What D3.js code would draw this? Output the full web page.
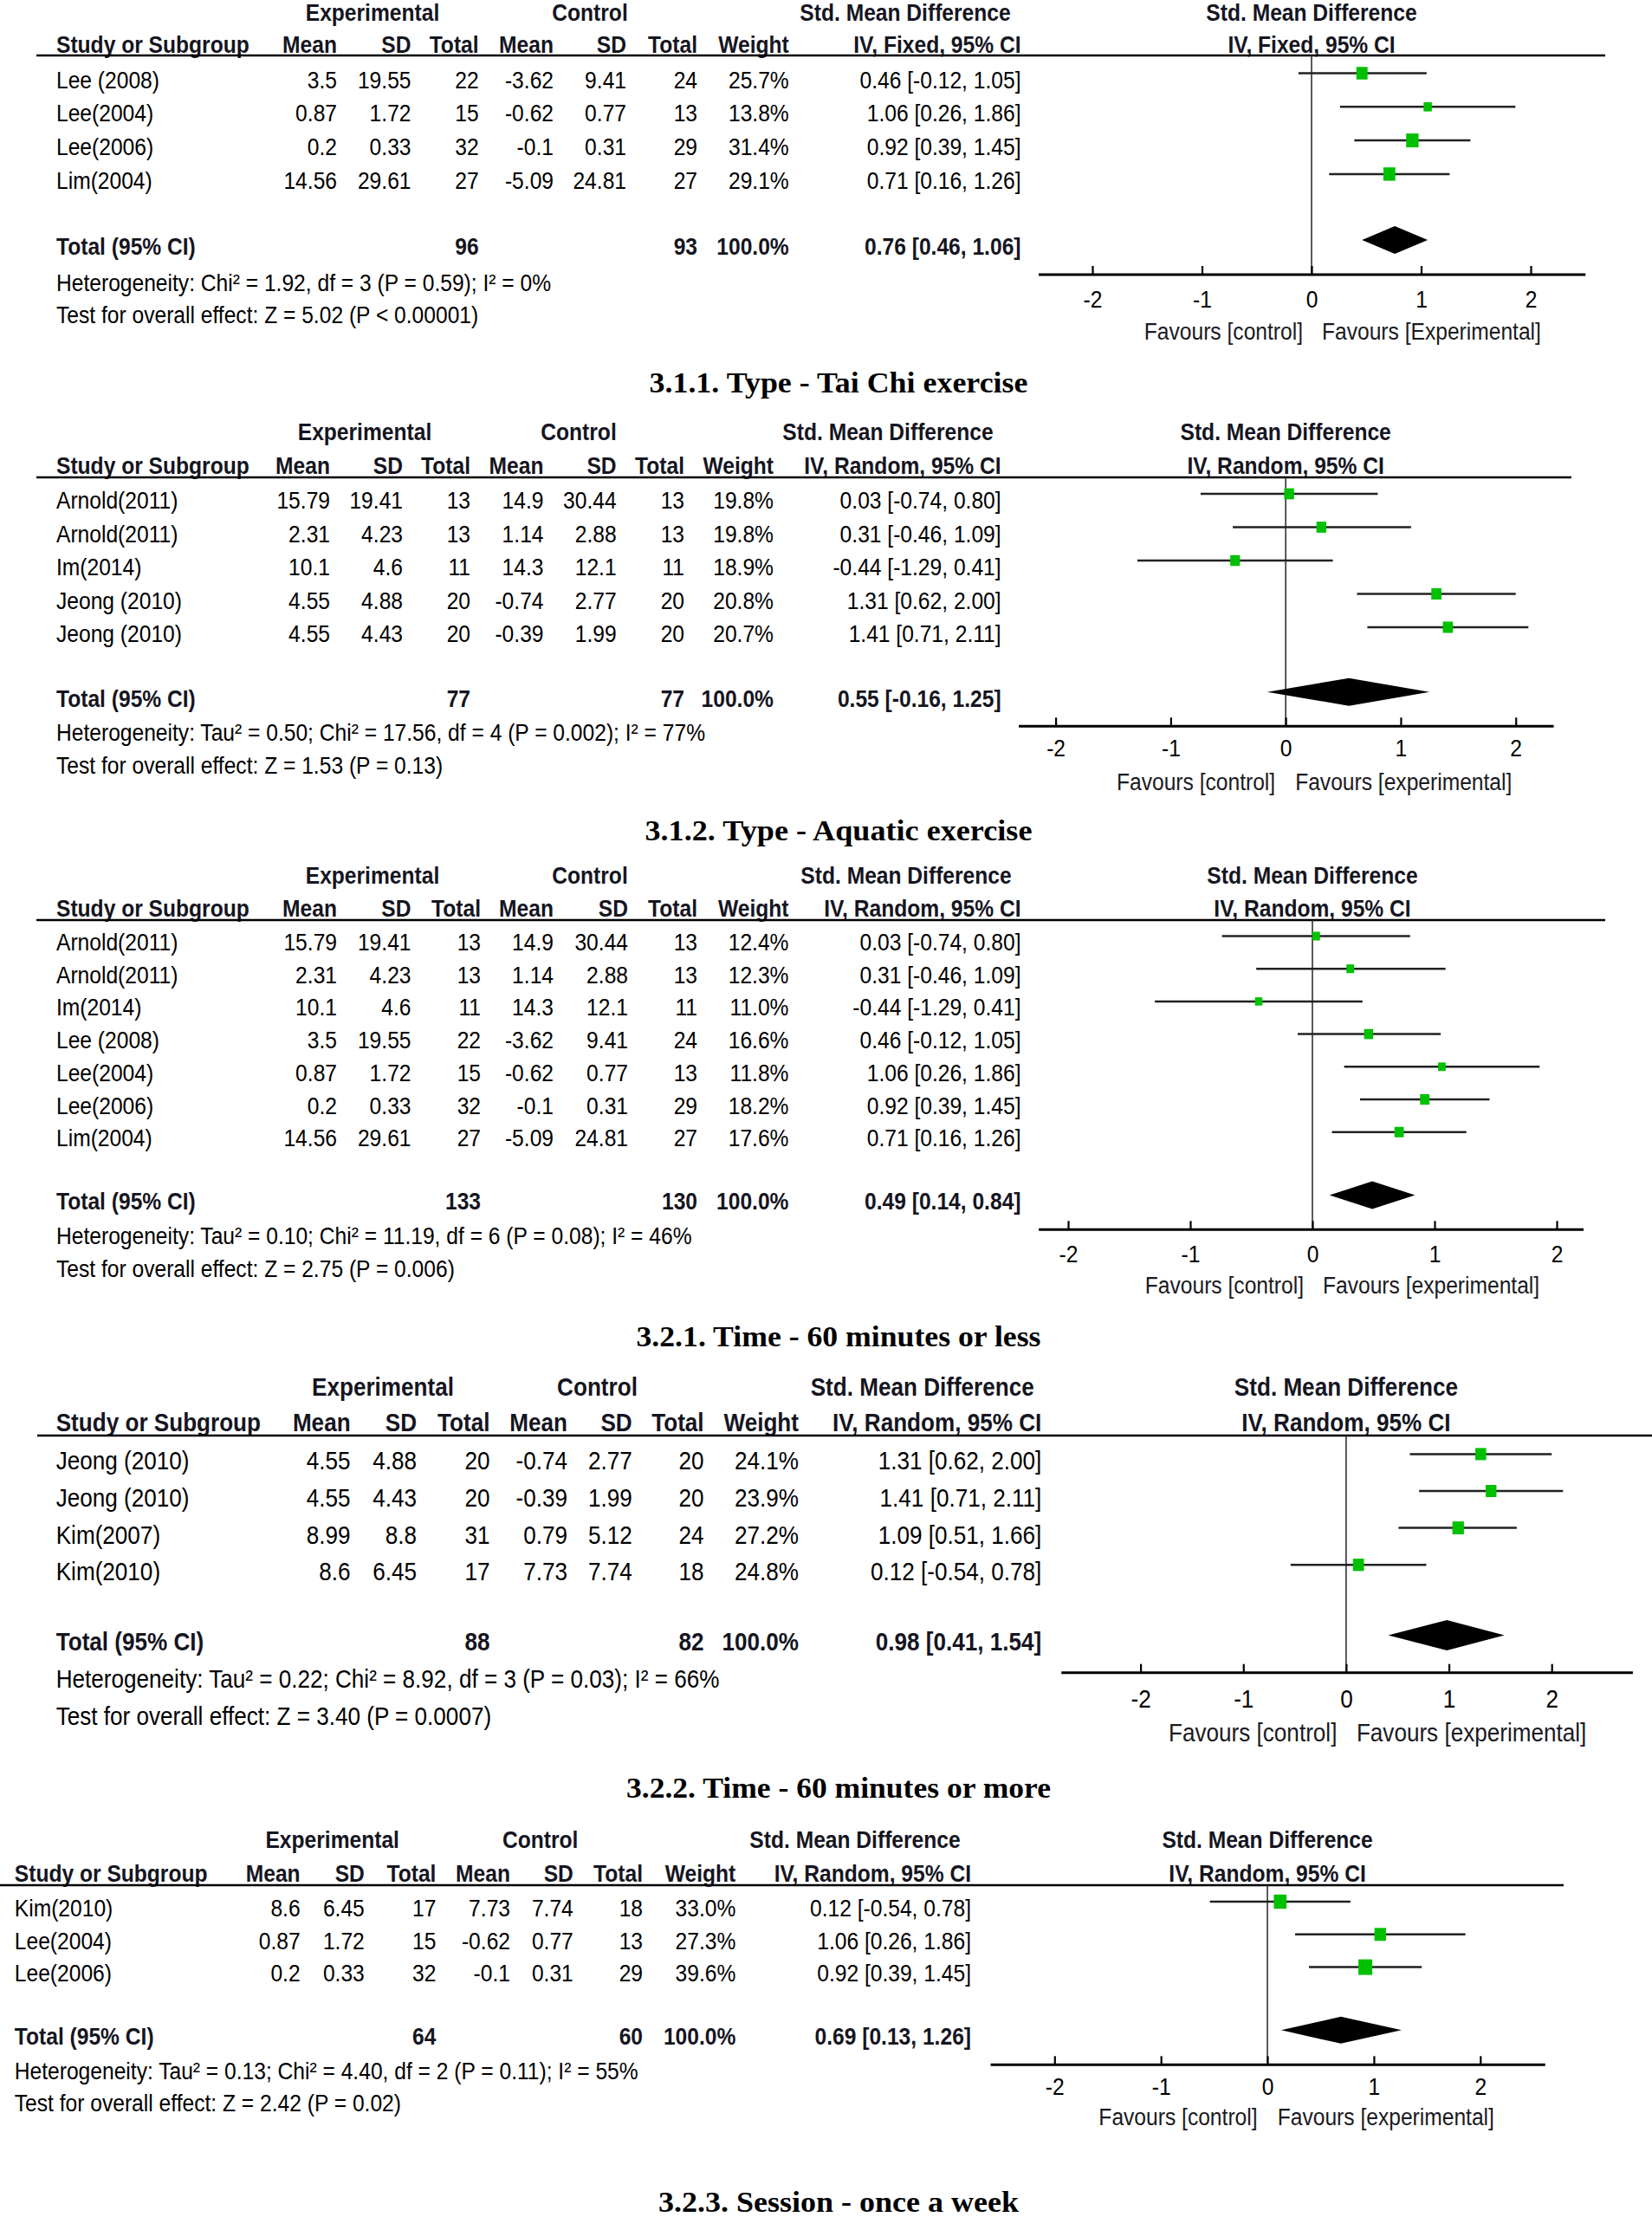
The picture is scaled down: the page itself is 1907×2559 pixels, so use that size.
<!DOCTYPE html>
<html><head><meta charset="utf-8">
<script src="https://cdn.jsdelivr.net/npm/d3@7"></script>
<style>html,body{margin:0;padding:0;background:#fff} svg{display:block}</style>
</head><body>
<script>
// ---------------- DATA ----------------
const tickValues = [-2, -1, 0, 1, 2];
const colHeaders = ["Mean", "SD", "Total", "Mean", "SD", "Total", "Weight"];

// Panel 1 — IV, Fixed
const p1Study   = ["Lee (2008)", "Lee(2004)", "Lee(2006)", "Lim(2004)"];
const p1ExpMean = [3.5, 0.87, 0.2, 14.56];
const p1ExpSD   = [19.55, 1.72, 0.33, 29.61];
const p1ExpN    = [22, 15, 32, 27];
const p1CtlMean = [-3.62, -0.62, -0.1, -5.09];
const p1CtlSD   = [9.41, 0.77, 0.31, 24.81];
const p1CtlN    = [24, 13, 29, 27];
const p1Weight  = [25.7, 13.8, 31.4, 29.1];
const p1Smd     = [0.46, 1.06, 0.92, 0.71];
const p1Lo      = [-0.12, 0.26, 0.39, 0.16];
const p1Hi      = [1.05, 1.86, 1.45, 1.26];
const p1Total   = {expN: 96, ctlN: 93, smd: 0.76, lo: 0.46, hi: 1.06};
const p1Het  = "Heterogeneity: Chi\u00B2 = 1.92, df = 3 (P = 0.59); I\u00B2 = 0%";
const p1Test = "Test for overall effect: Z = 5.02 (P < 0.00001)";

// Panel 2 — Type: Tai Chi
const p2Study   = ["Arnold(2011)", "Arnold(2011)", "Im(2014)", "Jeong (2010)", "Jeong (2010)"];
const p2ExpMean = [15.79, 2.31, 10.1, 4.55, 4.55];
const p2ExpSD   = [19.41, 4.23, 4.6, 4.88, 4.43];
const p2ExpN    = [13, 13, 11, 20, 20];
const p2CtlMean = [14.9, 1.14, 14.3, -0.74, -0.39];
const p2CtlSD   = [30.44, 2.88, 12.1, 2.77, 1.99];
const p2CtlN    = [13, 13, 11, 20, 20];
const p2Weight  = [19.8, 19.8, 18.9, 20.8, 20.7];
const p2Smd     = [0.03, 0.31, -0.44, 1.31, 1.41];
const p2Lo      = [-0.74, -0.46, -1.29, 0.62, 0.71];
const p2Hi      = [0.80, 1.09, 0.41, 2.00, 2.11];
const p2Total   = {expN: 77, ctlN: 77, smd: 0.55, lo: -0.16, hi: 1.25};
const p2Het  = "Heterogeneity: Tau\u00B2 = 0.50; Chi\u00B2 = 17.56, df = 4 (P = 0.002); I\u00B2 = 77%";
const p2Test = "Test for overall effect: Z = 1.53 (P = 0.13)";

// Panel 3 — Type: Aquatic
const p3Study   = ["Arnold(2011)", "Arnold(2011)", "Im(2014)", "Lee (2008)", "Lee(2004)", "Lee(2006)", "Lim(2004)"];
const p3ExpMean = [15.79, 2.31, 10.1, 3.5, 0.87, 0.2, 14.56];
const p3ExpSD   = [19.41, 4.23, 4.6, 19.55, 1.72, 0.33, 29.61];
const p3ExpN    = [13, 13, 11, 22, 15, 32, 27];
const p3CtlMean = [14.9, 1.14, 14.3, -3.62, -0.62, -0.1, -5.09];
const p3CtlSD   = [30.44, 2.88, 12.1, 9.41, 0.77, 0.31, 24.81];
const p3CtlN    = [13, 13, 11, 24, 13, 29, 27];
const p3Weight  = [12.4, 12.3, 11.0, 16.6, 11.8, 18.2, 17.6];
const p3Smd     = [0.03, 0.31, -0.44, 0.46, 1.06, 0.92, 0.71];
const p3Lo      = [-0.74, -0.46, -1.29, -0.12, 0.26, 0.39, 0.16];
const p3Hi      = [0.80, 1.09, 0.41, 1.05, 1.86, 1.45, 1.26];
const p3Total   = {expN: 133, ctlN: 130, smd: 0.49, lo: 0.14, hi: 0.84};
const p3Het  = "Heterogeneity: Tau\u00B2 = 0.10; Chi\u00B2 = 11.19, df = 6 (P = 0.08); I\u00B2 = 46%";
const p3Test = "Test for overall effect: Z = 2.75 (P = 0.006)";

// Panel 4 — Time: 60 minutes or less
const p4Study   = ["Jeong (2010)", "Jeong (2010)", "Kim(2007)", "Kim(2010)"];
const p4ExpMean = [4.55, 4.55, 8.99, 8.6];
const p4ExpSD   = [4.88, 4.43, 8.8, 6.45];
const p4ExpN    = [20, 20, 31, 17];
const p4CtlMean = [-0.74, -0.39, 0.79, 7.73];
const p4CtlSD   = [2.77, 1.99, 5.12, 7.74];
const p4CtlN    = [20, 20, 24, 18];
const p4Weight  = [24.1, 23.9, 27.2, 24.8];
const p4Smd     = [1.31, 1.41, 1.09, 0.12];
const p4Lo      = [0.62, 0.71, 0.51, -0.54];
const p4Hi      = [2.00, 2.11, 1.66, 0.78];
const p4Total   = {expN: 88, ctlN: 82, smd: 0.98, lo: 0.41, hi: 1.54};
const p4Het  = "Heterogeneity: Tau\u00B2 = 0.22; Chi\u00B2 = 8.92, df = 3 (P = 0.03); I\u00B2 = 66%";
const p4Test = "Test for overall effect: Z = 3.40 (P = 0.0007)";

// Panel 5 — Time: 60 minutes or more
const p5Study   = ["Kim(2010)", "Lee(2004)", "Lee(2006)"];
const p5ExpMean = [8.6, 0.87, 0.2];
const p5ExpSD   = [6.45, 1.72, 0.33];
const p5ExpN    = [17, 15, 32];
const p5CtlMean = [7.73, -0.62, -0.1];
const p5CtlSD   = [7.74, 0.77, 0.31];
const p5CtlN    = [18, 13, 29];
const p5Weight  = [33.0, 27.3, 39.6];
const p5Smd     = [0.12, 1.06, 0.92];
const p5Lo      = [-0.54, 0.26, 0.39];
const p5Hi      = [0.78, 1.86, 1.45];
const p5Total   = {expN: 64, ctlN: 60, smd: 0.69, lo: 0.13, hi: 1.26};
const p5Het  = "Heterogeneity: Tau\u00B2 = 0.13; Chi\u00B2 = 4.40, df = 2 (P = 0.11); I\u00B2 = 55%";
const p5Test = "Test for overall effect: Z = 2.42 (P = 0.02)";

const methods = ["IV, Fixed, 95% CI", "IV, Random, 95% CI", "IV, Random, 95% CI", "IV, Random, 95% CI", "IV, Random, 95% CI"];
const favLeft  = ["Favours [control]", "Favours [control]", "Favours [control]", "Favours [control]", "Favours [control]"];
const favRight = ["Favours [Experimental]", "Favours [experimental]", "Favours [experimental]", "Favours [experimental]", "Favours [experimental]"];
const captions = ["3.1.1. Type - Tai Chi exercise", "3.1.2. Type - Aquatic exercise",
                  "3.2.1. Time - 60 minutes or less", "3.2.2. Time - 60 minutes or more",
                  "3.2.3. Session - once a week"];

// ---------------- LAYOUT (positions / styles) ----------------
const layouts = [
  {fs:27.5, sx:0.895, h1:24, h2:60.5, hl:64, hlX1:42, hlX2:1853, study:65,
   cols:[389,474.5,552.6,639,723,805,910.7,1178.5], hdr:{exp:430,ctl:681,smd:1045},
   row0:101.5, rowStep:38.8, totY:294, hetY:336, testY:373,
   xm2:1261, x2:1767, axY:317, axExt:[-2.49,2.5], tickLblY:355, favY:392, favGap:[10,12], ciOff:17, dHalf:16},
  {fs:27.5, sx:0.895, h1:508, h2:546.5, hl:551, hlX1:42, hlX2:1814, study:65,
   cols:[381,465,543,627.5,711.6,790,893,1155.6], hdr:{exp:421,ctl:668,smd:1025},
   row0:587, rowStep:38.5, totY:815.7, hetY:855, testY:893,
   xm2:1218.6, x2:1749.7, axY:838.3, axExt:[-2.32,2.33], tickLblY:873, favY:911.7, favGap:[12,11], ciOff:17, dHalf:16},
  {fs:27.5, sx:0.895, h1:1020, h2:1058, hl:1062, hlX1:42, hlX2:1853, study:65,
   cols:[389,474.5,555,639,725,805,910.5,1178.5], hdr:{exp:430,ctl:681,smd:1046},
   row0:1097, rowStep:37.7, totY:1396, hetY:1436.4, testY:1474,
   xm2:1233, x2:1797, axY:1419.3, axExt:[-2.24,2.22], tickLblY:1456.7, favY:1493, favGap:[10,12], ciOff:16.5, dHalf:16},
  {fs:29.5, sx:0.885, h1:1610.7, h2:1651.8, hl:1657, hlX1:43, hlX2:1907, study:64.7,
   cols:[404.6,481,565.5,655,729.7,812.6,922,1202.3], hdr:{exp:442,ctl:689.5,smd:1064.7},
   row0:1696.4, rowStep:42.6, totY:1905.4, hetY:1948.2, testY:1991,
   xm2:1316.6, x2:1791.2, axY:1930.7, axExt:[-2.77,2.79], tickLblY:1970.7, favY:2010, favGap:[10.5,12], ciOff:18, dHalf:17.5},
  {fs:27.5, sx:0.895, h1:2133, h2:2171.7, hl:2176, hlX1:0, hlX2:1805, study:16.8,
   cols:[346.6,420.8,503.4,589,661.8,742,849.3,1121], hdr:{exp:383.7,ctl:623.6,smd:987},
   row0:2211.7, rowStep:37.8, totY:2360, hetY:2400, testY:2436.7,
   xm2:1217.3, x2:1708.8, axY:2383.3, axExt:[-2.6,2.61], tickLblY:2418, favY:2453, favGap:[11.5,11.7], ciOff:16.7, dHalf:15.5}
];
const captionLayout = [{y:453, w:437}, {y:970, w:447}, {y:1553.6, w:467}, {y:2075, w:490}, {y:2553, w:416}];

// ---------------- BUILD ----------------
const panels = [
  {study:p1Study, expMean:p1ExpMean, expSD:p1ExpSD, expN:p1ExpN, ctlMean:p1CtlMean, ctlSD:p1CtlSD, ctlN:p1CtlN, weight:p1Weight, smd:p1Smd, lo:p1Lo, hi:p1Hi, total:p1Total, het:p1Het, test:p1Test},
  {study:p2Study, expMean:p2ExpMean, expSD:p2ExpSD, expN:p2ExpN, ctlMean:p2CtlMean, ctlSD:p2CtlSD, ctlN:p2CtlN, weight:p2Weight, smd:p2Smd, lo:p2Lo, hi:p2Hi, total:p2Total, het:p2Het, test:p2Test},
  {study:p3Study, expMean:p3ExpMean, expSD:p3ExpSD, expN:p3ExpN, ctlMean:p3CtlMean, ctlSD:p3CtlSD, ctlN:p3CtlN, weight:p3Weight, smd:p3Smd, lo:p3Lo, hi:p3Hi, total:p3Total, het:p3Het, test:p3Test},
  {study:p4Study, expMean:p4ExpMean, expSD:p4ExpSD, expN:p4ExpN, ctlMean:p4CtlMean, ctlSD:p4CtlSD, ctlN:p4CtlN, weight:p4Weight, smd:p4Smd, lo:p4Lo, hi:p4Hi, total:p4Total, het:p4Het, test:p4Test},
  {study:p5Study, expMean:p5ExpMean, expSD:p5ExpSD, expN:p5ExpN, ctlMean:p5CtlMean, ctlSD:p5CtlSD, ctlN:p5CtlN, weight:p5Weight, smd:p5Smd, lo:p5Lo, hi:p5Hi, total:p5Total, het:p5Het, test:p5Test}
].map((p, i) => Object.assign(p, {method: methods[i], favL: favLeft[i], favR: favRight[i]}));

const W = 1907, H = 2559;
const FONT = "'Liberation Sans', Arial, sans-serif";
const svg = d3.select("body").append("svg").attr("width", W).attr("height", H)
  .style("background", "#fff");

const sqSize = d3.scaleSqrt().domain([0, 100]).range([0, 25.5]);
const fmtCI = (m, l, h) => `${m.toFixed(2)} [${l.toFixed(2)}, ${h.toFixed(2)}]`;

function sText(g, x, y, s, o) {
  return g.append("text")
    .attr("transform", `translate(${x},${y}) scale(${o.sx},1)`)
    .attr("text-anchor", o.anchor || "start")
    .attr("font-family", FONT)
    .attr("font-size", o.fs)
    .attr("font-weight", o.bold ? "bold" : "normal")
    .attr("fill", o.fill || "#000")
    .text(s);
}

function drawPanel(p, L) {
  const g = svg.append("g");
  const base = {fs: L.fs, sx: L.sx};
  const hb = {fs: L.fs, sx: L.sx, bold: true, fill: "#15151f"};
  const x = d3.scaleLinear().domain([-2, 2]).range([L.xm2, L.x2]);
  const y = d3.scaleLinear().domain([0, 1]).range([L.row0, L.row0 + L.rowStep]);

  // group headers
  sText(g, L.hdr.exp, L.h1, "Experimental", {...hb, anchor: "middle"});
  sText(g, L.hdr.ctl, L.h1, "Control", {...hb, anchor: "middle"});
  sText(g, L.hdr.smd, L.h1, "Std. Mean Difference", {...hb, anchor: "middle"});
  sText(g, x(0), L.h1, "Std. Mean Difference", {...hb, anchor: "middle"});
  // column headers
  sText(g, L.study, L.h2, "Study or Subgroup", hb);
  colHeaders.concat([p.method]).forEach((h, j) => sText(g, L.cols[j], L.h2, h, {...hb, anchor: "end"}));
  sText(g, x(0), L.h2, p.method, {...hb, anchor: "middle"});

  // header rule
  g.append("line").attr("x1", L.hlX1).attr("x2", L.hlX2).attr("y1", L.hl).attr("y2", L.hl)
    .attr("stroke", "#000").attr("stroke-width", 2.5);

  // study rows
  p.study.forEach((s, i) => {
    const yy = y(i);
    sText(g, L.study, yy, s, base);
    const vals = [p.expMean[i], p.expSD[i], p.expN[i], p.ctlMean[i], p.ctlSD[i], p.ctlN[i],
                  p.weight[i].toFixed(1) + "%", fmtCI(p.smd[i], p.lo[i], p.hi[i])];
    vals.forEach((v, j) => sText(g, L.cols[j], yy, String(v), {...base, anchor: "end"}));
  });

  // total row
  const tb = {fs: L.fs, sx: L.sx, bold: true, fill: "#15151f"};
  sText(g, L.study, L.totY, "Total (95% CI)", tb);
  sText(g, L.cols[2], L.totY, String(p.total.expN), {...tb, anchor: "end"});
  sText(g, L.cols[5], L.totY, String(p.total.ctlN), {...tb, anchor: "end"});
  sText(g, L.cols[6], L.totY, "100.0%", {...tb, anchor: "end"});
  sText(g, L.cols[7], L.totY, fmtCI(p.total.smd, p.total.lo, p.total.hi), {...tb, anchor: "end"});
  sText(g, L.study, L.hetY, p.het, base);
  sText(g, L.study, L.testY, p.test, base);

  // zero line
  g.append("line").attr("x1", x(0)).attr("x2", x(0)).attr("y1", L.hl).attr("y2", L.axY)
    .attr("stroke", "#333").attr("stroke-width", 1.6);

  // CI lines + squares
  const rows = p.study.map((s, i) => ({i, smd: p.smd[i], lo: p.lo[i], hi: p.hi[i], w: p.weight[i]}));
  g.selectAll("line.ci").data(rows).join("line").attr("class", "ci")
    .attr("x1", d => x(d.lo)).attr("x2", d => x(d.hi))
    .attr("y1", d => y(d.i) - L.ciOff).attr("y2", d => y(d.i) - L.ciOff)
    .attr("stroke", "#222").attr("stroke-width", 2.5);
  g.selectAll("rect.sq").data(rows).join("rect").attr("class", "sq")
    .attr("x", d => x(d.smd) - sqSize(d.w) / 2)
    .attr("y", d => y(d.i) - L.ciOff - sqSize(d.w) * 1.12 / 2)
    .attr("width", d => sqSize(d.w)).attr("height", d => sqSize(d.w) * 1.12)
    .attr("fill", "#00c000");

  // diamond
  const cy = L.totY - L.ciOff, t = p.total;
  g.append("path")
    .attr("d", d3.line()([[x(t.lo), cy], [x(t.smd), cy - L.dHalf], [x(t.hi), cy], [x(t.smd), cy + L.dHalf]]) + "Z")
    .attr("fill", "#000");

  // axis
  g.append("line").attr("x1", x(L.axExt[0])).attr("x2", x(L.axExt[1])).attr("y1", L.axY).attr("y2", L.axY)
    .attr("stroke", "#000").attr("stroke-width", 3);
  const ax = d3.axisBottom(x).tickValues(tickValues).tickSize(-10).tickSizeOuter(0)
    .tickPadding(L.tickLblY - L.axY - 0.71 * L.fs).tickFormat(d => String(d));
  const ag = g.append("g").attr("transform", `translate(0,${L.axY})`).call(ax);
  ag.select(".domain").remove();
  ag.selectAll(".tick line").attr("stroke", "#000").attr("stroke-width", 2.2);
  ag.selectAll(".tick text").attr("font-family", FONT).attr("font-size", L.fs).attr("fill", "#000")
    .attr("transform", `scale(${L.sx},1)`);

  // favours labels
  sText(g, x(0) - L.favGap[0], L.favY, p.favL, {...base, anchor: "end", fill: "#1a1a22"});
  sText(g, x(0) + L.favGap[1], L.favY, p.favR, {...base, anchor: "start", fill: "#1a1a22"});
}

panels.forEach((p, i) => drawPanel(p, layouts[i]));

// captions
captions.forEach((c, i) => {
  svg.append("text")
    .attr("x", 968).attr("y", captionLayout[i].y)
    .attr("text-anchor", "middle")
    .attr("font-family", "'Liberation Serif', 'DejaVu Serif', serif")
    .attr("font-weight", "bold")
    .attr("font-size", 33)
    .attr("textLength", captionLayout[i].w)
    .attr("lengthAdjust", "spacingAndGlyphs")
    .attr("fill", "#000")
    .text(c);
});
</script>
</body></html>
